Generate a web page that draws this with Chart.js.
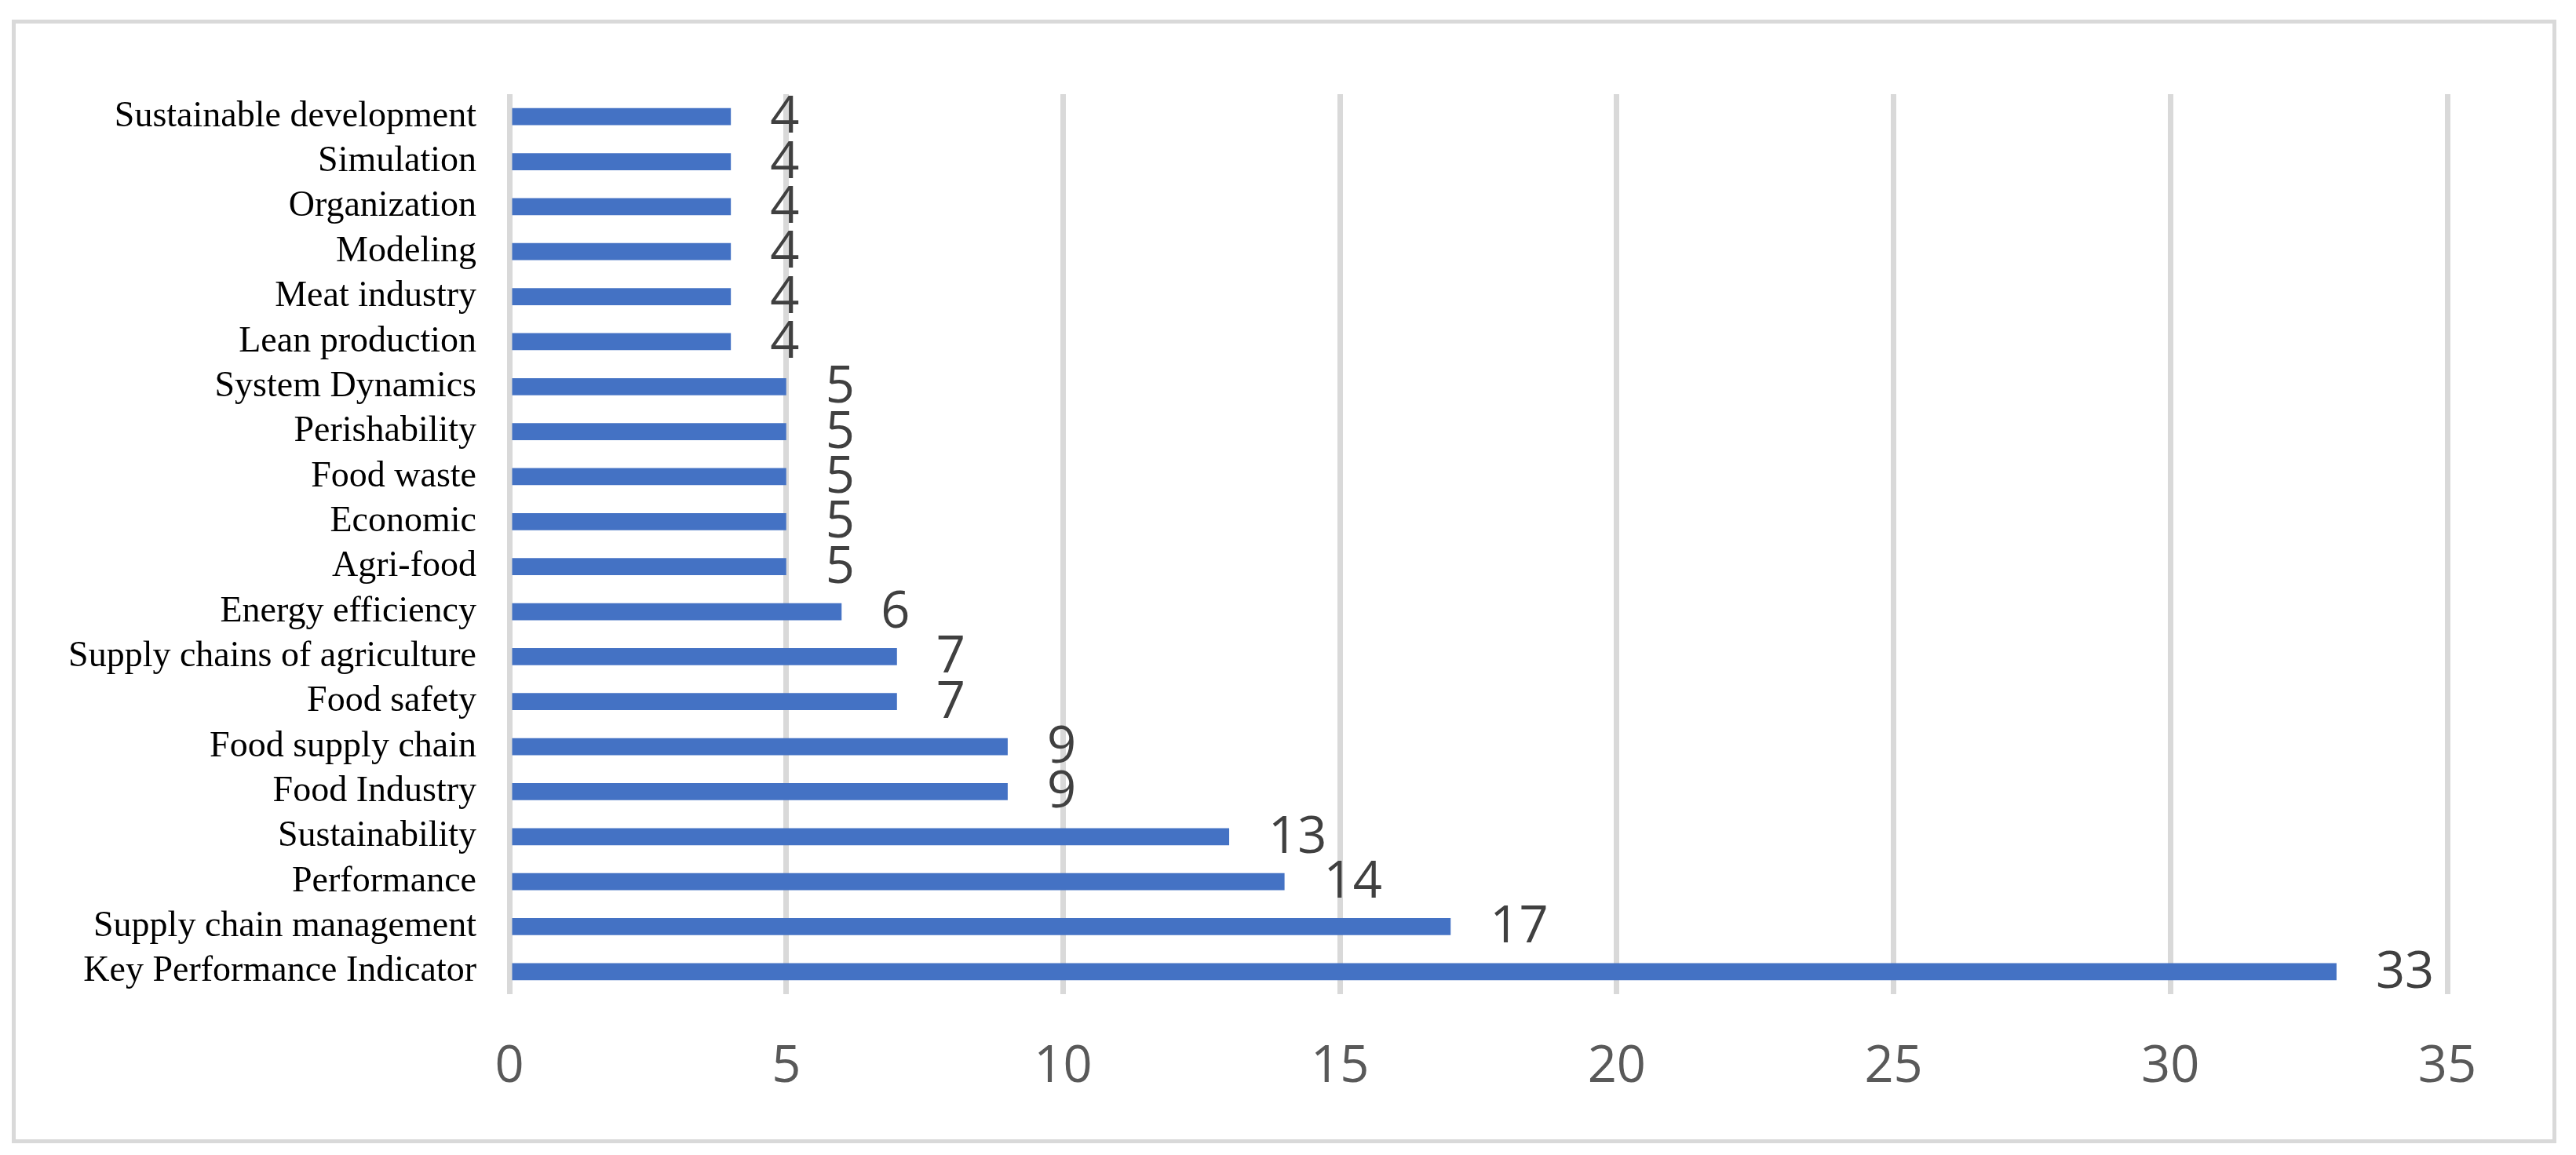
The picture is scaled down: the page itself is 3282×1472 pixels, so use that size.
<!DOCTYPE html>
<html>
<head>
<meta charset="utf-8">
<script src="https://cdn.jsdelivr.net/npm/chart.js@4.4.1/dist/chart.umd.min.js"></script>
<style>
  html, body { margin: 0; padding: 0; background: #fff; }
  #wrap { position: relative; width: 3282px; height: 1472px; }
  #frame {
    position: absolute; left: 15px; top: 25px; width: 3232px; height: 1422px;
    border: 5px solid #d9d9d9; pointer-events: none;
  }
</style>
</head>
<body>
<div id="wrap">
  <canvas id="chart" width="3282" height="1472"></canvas>
  <div id="frame"></div>
</div>
<script>
// keyword categories, top to bottom
const keywords = [
    'Sustainable development', 'Simulation', 'Organization', 'Modeling',
    'Meat industry', 'Lean production', 'System Dynamics', 'Perishability',
    'Food waste', 'Economic', 'Agri-food', 'Energy efficiency',
    'Supply chains of agriculture', 'Food safety', 'Food supply chain',
    'Food Industry', 'Sustainability', 'Performance',
    'Supply chain management', 'Key Performance Indicator'
];
// number of occurrences
const counts = [4, 4, 4, 4, 4, 4, 5, 5, 5, 5, 5, 6, 7, 7, 9, 9, 13, 14, 17, 33];
// x axis ticks
const xTicks = [0, 5, 10, 15, 20, 25, 30, 35];

const BAR_COLOR = '#4472C4';
const GRID_COLOR = '#d9d9d9';

// value labels at the end of each bar
const valueLabels = {
    id: 'valueLabels',
    afterDatasetsDraw(chart) {
        const ctx = chart.ctx;
        const meta = chart.getDatasetMeta(0);
        ctx.save();
        ctx.font = '65px "Open Sans"';
        ctx.fillStyle = '#404040';
        ctx.textAlign = 'left';
        ctx.textBaseline = 'middle';
        meta.data.forEach((bar, i) => {
            ctx.fillText(String(counts[i]), bar.x + 50, bar.y + 2);
        });
        ctx.restore();
    }
};

const ctx = document.getElementById('chart').getContext('2d');
const chart = new Chart(ctx, {
    type: 'bar',
    data: {
        labels: keywords,
        datasets: [{
            data: counts,
            backgroundColor: BAR_COLOR,
            borderWidth: 0,
            categoryPercentage: 1,
            barPercentage: 0.38
        }]
    },
    options: {
        indexAxis: 'y',
        responsive: false,
        animation: false,
        layout: {
            padding: { top: 120, right: 164, bottom: 0, left: 0 }
        },
        scales: {
            x: {
                min: 0,
                max: 35,
                afterBuildTicks: (scale) => {
                    scale.ticks = xTicks.map(v => ({ value: v }));
                },
                afterFit: (scale) => { scale.height = 205; },
                border: { display: false },
                grid: {
                    color: GRID_COLOR,
                    lineWidth: 7,
                    drawTicks: false
                },
                ticks: {
                    color: '#595959',
                    font: { family: 'Open Sans', size: 65 },
                    padding: 54,
                    maxRotation: 0
                }
            },
            y: {
                afterFit: (scale) => { scale.width = 649; },
                border: { display: false },
                grid: { display: false, drawTicks: false },
                ticks: {
                    color: '#000000',
                    font: { family: 'Liberation Serif', size: 46 },
                    padding: 42,
                    autoSkip: false
                }
            }
        },
        plugins: {
            legend: { display: false },
            tooltip: { enabled: false }
        }
    },
    plugins: [valueLabels]
});
</script>
</body>
</html>
